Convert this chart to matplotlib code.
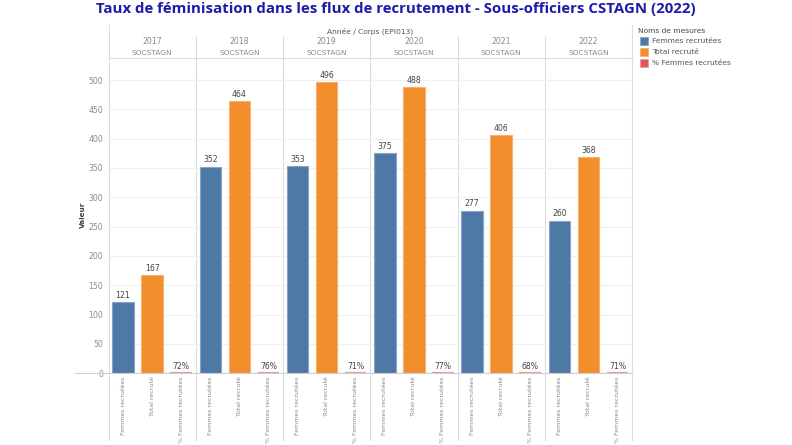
import numpy as np
import matplotlib.pyplot as plt
from matplotlib.lines import Line2D

years = ['2017', '2018', '2019', '2020', '2021', '2022']
corps = 'SOCSTAGN'
mesures = ['Femmes recrutées', 'Total recruté', '% Femmes recrutées']
femmes = [121, 352, 353, 375, 277, 260]
total = [167, 464, 496, 488, 406, 368]
pct_femmes = [0.72, 0.76, 0.71, 0.77, 0.68, 0.71]

colors = ['#4e79a7', '#f28e2b', '#e15759']
edges = ['#86a5c6', '#f6b070', '#eb9a9b']
grey_txt = '#8a8a8a'
line_c = '#dcdcdc'

fig = plt.figure(figsize=(7.92, 4.45), dpi=100)
W, H = 792, 445


def fx(px):
    return px / W


def fy(py):
    return 1 - py / H


x0, x1 = 108.5, 632
y_top, y_zero = 58, 373.3
ax = fig.add_axes([fx(x0), fy(y_zero), fx(x1) - fx(x0), fy(y_top) - fy(y_zero)])

ymax = 500 * (y_zero - y_top) / (y_zero - 80)
n = len(years)
for i in range(n):
    vals = [femmes[i], total[i], pct_femmes[i]]
    labels = [str(femmes[i]), str(total[i]), f'{pct_femmes[i] * 100:.0f}%']
    for j in range(3):
        xp = i * 3 + j
        ax.bar(xp, vals[j], width=0.74, color=colors[j], edgecolor=edges[j],
               linewidth=0.8 if j < 2 else 1.6, zorder=3)
        ax.text(xp, vals[j] + 4, labels[j], ha='center', va='bottom',
                fontsize=5.6, color='#444444', zorder=4)

ax.set_xlim(-0.5, n * 3 - 0.5)
ax.set_ylim(0, ymax)
ax.set_yticks(range(0, 501, 50))
ax.yaxis.grid(True, color='#f0f0f0', linewidth=0.8, zorder=0)
ax.tick_params(axis='y', length=0, labelsize=5.6, labelcolor=grey_txt, pad=4)
ax.set_xticks([])
for s in ax.spines.values():
    s.set_visible(False)
for k in range(1, n):
    ax.axvline(k * 3 - 0.5, color=line_c, linewidth=0.8, zorder=1)

# category labels under bars
for i in range(n):
    for j in range(3):
        xp = i * 3 + j
        ax.text(xp, -5, mesures[j], rotation=90, ha='center', va='top',
                fontsize=4.5, color=grey_txt, clip_on=False)

# frame lines in figure coords
fig.add_artist(Line2D([fx(75), fx(x1)], [fy(y_zero), fy(y_zero)], color='#cfcfcf', lw=0.8))
fig.add_artist(Line2D([fx(x0), fx(x1)], [fy(y_top), fy(y_top)], color=line_c, lw=0.8))
fig.add_artist(Line2D([fx(x0), fx(x0)], [fy(25), fy(440)], color=line_c, lw=0.8))
fig.add_artist(Line2D([fx(x1), fx(x1)], [fy(25), fy(440)], color=line_c, lw=0.8))
pw = (x1 - x0) / n
for k in range(1, n):
    xs = x0 + k * pw
    fig.add_artist(Line2D([fx(xs), fx(xs)], [fy(36), fy(y_top)], color=line_c, lw=0.8))
    fig.add_artist(Line2D([fx(xs), fx(xs)], [fy(y_zero), fy(440)], color=line_c, lw=0.8))

# header
fig.text(fx(x0 + (x1 - x0) / 2), fy(31), 'Année / Corps (EPI013)', ha='center', va='center',
         fontsize=5.4, color='#555555')
for i, yr in enumerate(years):
    cx = x0 + (i + 0.5) * pw
    fig.text(fx(cx), fy(42), yr, ha='center', va='center', fontsize=5.6, color=grey_txt)
    fig.text(fx(cx), fy(53), corps, ha='center', va='center', fontsize=5.4, color=grey_txt)

fig.text(fx(83), fy(215), 'Valeur', rotation=90, ha='center', va='center',
         fontsize=5.2, color='#444444', fontweight='bold')

# title
fig.text(0.5, fy(9), 'Taux de féminisation dans les flux de recrutement - Sous-officiers CSTAGN (2022)',
         ha='center', va='center', fontsize=10.8, fontweight='bold', color='#1c1ca8',
         family='Open Sans')

# legend
fig.text(fx(638), fy(31), 'Noms de mesures', ha='left', va='center', fontsize=5.4, color='#444444')
for j, m in enumerate(mesures):
    yy = 41 + j * 11
    fig.add_artist(plt.Rectangle((fx(640), fy(yy + 4)), fx(8), fy(0) - fy(8),
                                 facecolor=colors[j], edgecolor=edges[j], lw=0.6))
    fig.text(fx(652), fy(yy), m, ha='left', va='center', fontsize=5.4, color='#555555')

fig.savefig('out.png', dpi=100)
